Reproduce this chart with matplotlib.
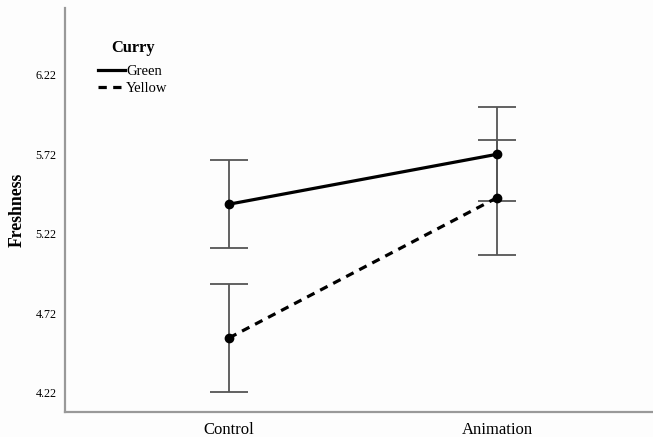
import matplotlib
matplotlib.use("Agg")
import matplotlib.pyplot as plt
from matplotlib.lines import Line2D

categories = ["Control", "Animation"]
green_means = [5.407, 5.721]
green_err = [0.278, 0.295]
yellow_means = [4.566, 5.448]
yellow_err = [0.342, 0.361]
yticks = [4.22, 4.72, 5.22, 5.72, 6.22]

plt.rcParams['font.family'] = ['Liberation Serif', 'DejaVu Serif']

fig = plt.figure(figsize=(6.53, 4.37), dpi=100)
fig.patch.set_facecolor('#fdfdfd')
ax = fig.add_axes([65/653, 25/437, 1 - 65/653, (437-8-25)/437])
ax.set_facecolor('#fdfdfd')

x = list(range(len(categories)))
ecol = '#555555'
ax.errorbar(x, green_means, yerr=green_err, fmt='none', ecolor=ecol,
            elinewidth=1.3, capsize=14, capthick=1.3, zorder=2)
ax.errorbar(x, yellow_means, yerr=yellow_err, fmt='none', ecolor=ecol,
            elinewidth=1.3, capsize=14, capthick=1.3, zorder=2)
ax.plot(x, green_means, color='black', lw=2.3, marker='o', ms=6, zorder=3,
        solid_capstyle='butt')
ax.plot(x, yellow_means, color='black', lw=2.3, marker='o', ms=6, zorder=3,
        linestyle=(0, (2.6, 2.0)))

ax.set_xlim(-0.612, 1.582)
ax.set_ylim(4.100, 6.641)
ax.set_xticks(x)
ax.set_xticklabels(categories, fontsize=12)
ax.set_yticks(yticks)
ax.set_yticklabels([f"{v:.2f}" for v in yticks], fontsize=8.7)
ax.tick_params(axis='both', length=0, pad=6)
ax.tick_params(axis='x', pad=7)
for s in ['top', 'right']:
    ax.spines[s].set_visible(False)
for s in ['left', 'bottom']:
    ax.spines[s].set_color('#999999')
    ax.spines[s].set_linewidth(1.6)
ax.set_ylabel("Freshness", fontsize=12.8, fontweight='bold')
ax.yaxis.set_label_coords((17.5 - 65) / (653 - 65), 0.5)
ax.yaxis.label.set_verticalalignment('center')

handles = [Line2D([], [], color='black', lw=2.3),
           Line2D([], [], color='black', lw=2.3, linestyle=(0, (2.6, 2.0)))]
leg = ax.legend(handles, ["Green", "Yellow"], frameon=False,
                loc='upper left', bbox_to_anchor=(98/653, 1 - 65/437),
                bbox_transform=fig.transFigure, fontsize=10.5,
                handlelength=1.85, handletextpad=0.08, labelspacing=0.25,
                borderaxespad=0, borderpad=0)
fig.text(133/653, 1 - 48/437, "Curry", fontsize=11.8, fontweight='bold',
         ha='center', va='center')

fig.savefig("out.png", dpi=100, facecolor=fig.get_facecolor())
